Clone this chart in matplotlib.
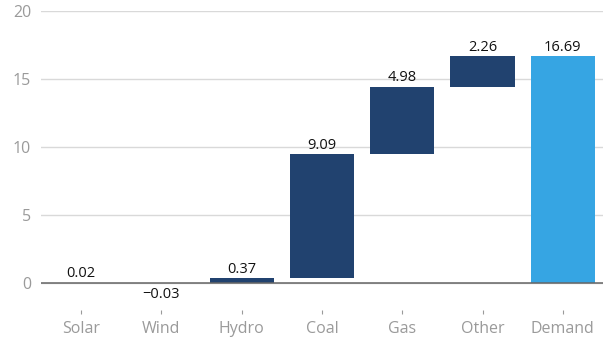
import numpy as np
import matplotlib.pyplot as plt

categories = ["Solar", "Wind", "Hydro", "Coal", "Gas", "Other", "Demand"]
changes = [0.02, -0.03, 0.37, 9.09, 4.98, 2.26]
total = 16.69
labels = ["0.02", "-0.03", "0.37", "9.09", "4.98", "2.26", "16.69"]

plt.rcParams['font.family'] = ['Open Sans', 'DejaVu Sans']

dark = "#21426F"
light = "#36A5E3"

# waterfall: each step starts where the previous ended
ends = np.cumsum(changes)
starts = ends - np.array(changes)

fig = plt.figure(figsize=(6.03, 3.38), dpi=100)
ax = fig.add_axes([0.068, 0.083, 0.932, 0.884])

x = np.arange(len(categories))
ax.bar(x[:-1], changes, bottom=starts, width=0.8, color=dark, zorder=3)
ax.bar(x[-1], total, width=0.8, color=light, zorder=3)

tops = list(np.maximum(starts, ends)) + [total]
for i, lab in enumerate(labels):
    if i < len(changes) and changes[i] < 0:
        ax.annotate(lab.replace("-", "\u2212"), (x[i], min(starts[i], ends[i])),
                    xytext=(0, -3), textcoords="offset points",
                    ha="center", va="top", fontsize=10.5, color="#111111")
    else:
        ax.annotate(lab, (x[i], tops[i]), xytext=(0, 1), textcoords="offset points",
                    ha="center", va="bottom", fontsize=10.5, color="#111111")

ax.set_xlim(-0.5, len(categories) - 0.5)
ax.set_ylim(-2.0, 20)
ax.set_yticks([0, 5, 10, 15, 20])
ax.set_xticks(x)
ax.set_xticklabels(categories)
ax.grid(axis="y", color="#d9d9d9", linewidth=1, zorder=0)
ax.axhline(0, color="#666666", linewidth=1.1, zorder=4)

for s in ax.spines.values():
    s.set_visible(False)
ax.tick_params(axis="y", length=0, labelsize=11.5, labelcolor="#9a9a9a", pad=7)
ax.tick_params(axis="x", length=3, color="#9a9a9a", labelsize=11.5,
               labelcolor="#9a9a9a", pad=5)

fig.savefig("out.png", dpi=100)
